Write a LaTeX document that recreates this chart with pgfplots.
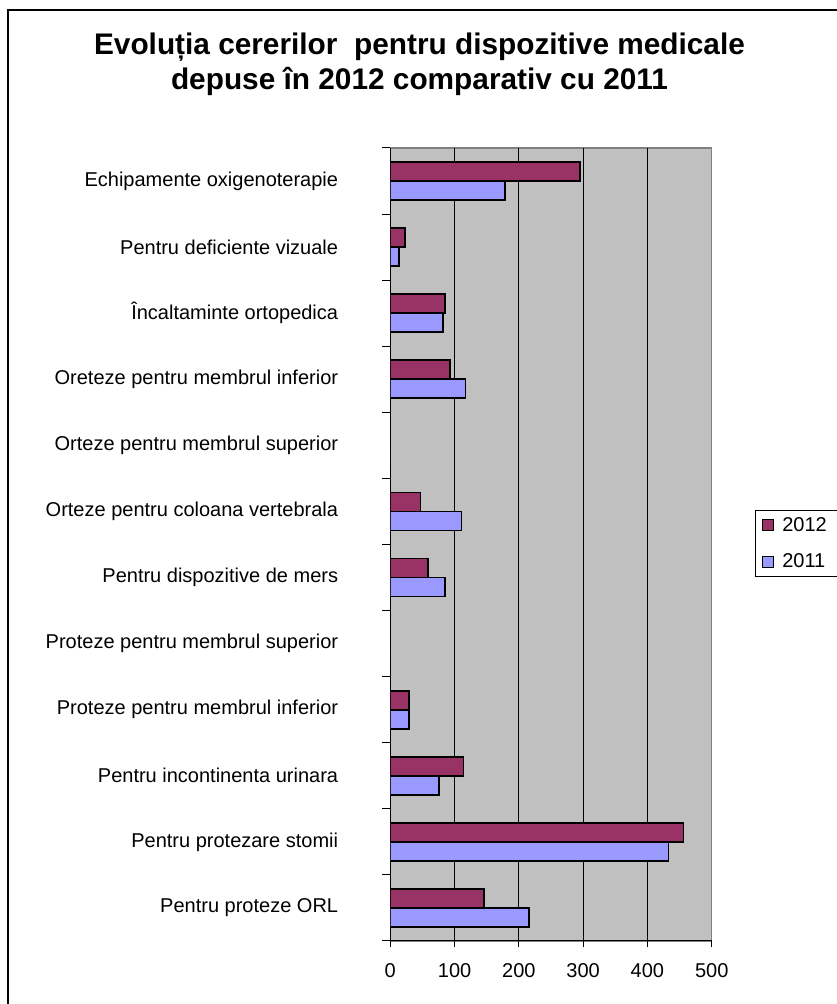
\documentclass[border=0pt]{standalone}
\usepackage{fontspec}
\setmainfont{Liberation Sans}
\usepackage{pgfplots}
\pgfplotsset{compat=1.18}

\definecolor{plum}{HTML}{993366}
\definecolor{periwinkle}{HTML}{9999FF}
\definecolor{plotgray}{HTML}{C0C0C0}
\definecolor{framegray}{HTML}{808080}

\begin{document}
\begin{tikzpicture}[x=1pt,y=1pt]
\useasboundingbox (0,0) rectangle (836,1004);
% outer chart frame (left and top edges)
\draw[line width=2pt] (8,-10) -- (8,994) -- (850,994);
% title
\node[font=\fontsize{29.8}{35}\selectfont\bfseries, align=center] at (419.5,939.5)
  {Evoluția cererilor\ \ pentru dispozitive medicale\\depuse în 2012 comparativ cu 2011};
\begin{axis}[
  at={(390.3pt,63pt)}, anchor=south west,
  scale only axis, width=321.4pt, height=793pt,
  xmin=0, xmax=500, ymin=-0.5, ymax=11.5,
  axis lines*=left,
  axis line style={-, black, line width=1pt},
  axis background/.style={fill=plotgray, draw=framegray, line width=1.2pt},
  xtick={0,100,...,400},
  extra x ticks={500},
  extra x tick style={grid=none},
  xmajorgrids, grid style={black, line width=0.9pt},
  x tick label style={font=\fontsize{20}{23}\selectfont},
  /pgf/number format/assume math mode=true,
  xticklabel style={yshift=-13pt},
  tick align=outside,
  major tick length=6pt,
  tick style={black, line width=1pt},
  ytick={0,...,11},
  yticklabels={Pentru proteze ORL, Pentru protezare stomii, Pentru incontinenta urinara,
    Proteze pentru membrul inferior, Proteze pentru membrul superior,
    Pentru dispozitive de mers, Orteze pentru coloana vertebrala,
    Orteze pentru membrul superior, Oreteze pentru membrul inferior,
    Încaltaminte ortopedica, Pentru deficiente vizuale, Echipamente oxigenoterapie},
  y tick label style={font=\fontsize{20}{23}\selectfont, anchor=east, inner sep=0pt, xshift=-46pt},
  major y tick style={draw=none},
  minor ytick={-0.5,0.5,...,11.5},
  minor y tick style={black, line width=1pt},
  minor tick length=8pt,
  xbar, bar width=19pt,
  legend style={at={(1.1347,0.5435)}, anchor=north west, draw=black, line width=0.8pt,
    font=\fontsize{20}{23}\selectfont, inner xsep=7pt, inner ysep=5pt,
    row sep=17pt, cells={anchor=west},
    /tikz/every odd column/.append style={column sep=6pt}},
  legend image code/.code={\draw[#1, line width=0.9pt] (0pt,-5.5pt) rectangle (11pt,5.5pt);},
  legend cell align=left,
]
\addplot[draw=black, line width=1.6pt, fill=plum, bar shift=9.5pt] coordinates {
  (146,0) (456,1) (114,2) (29,3) (0,4) (59,5) (47,6) (0,7) (93,8) (85,9) (23,10) (295,11)};
\addplot[draw=black, line width=1.6pt, fill=periwinkle, bar shift=-9.5pt] coordinates {
  (216,0) (433,1) (76,2) (29,3) (0,4) (85,5) (111,6) (0,7) (117,8) (82,9) (14,10) (178,11)};
\legend{2012\hspace*{24pt}, 2011}
\end{axis}
\end{tikzpicture}
\end{document}
